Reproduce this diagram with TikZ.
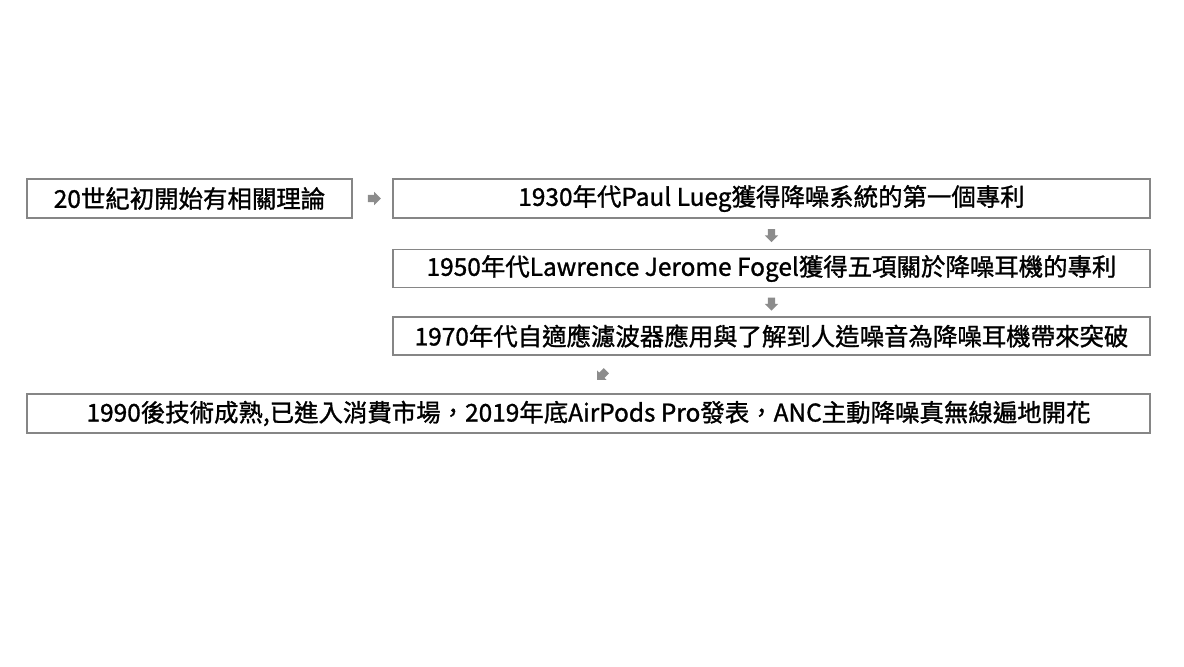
\documentclass[tikz,border=0pt]{standalone}
\usepackage{fontspec}
\setmainfont{Noto Sans CJK TC}[FakeBold=1.2]
\usetikzlibrary{shapes.arrows,calc}
\tikzset{
	box/.style={draw=gray!95,line width=0.5pt,inner sep=0pt,
		font=\fontsize{6.95}{8}\selectfont},
	blockarrow/.style={single arrow,fill=gray!90,draw=none,inner sep=0.03cm,
		minimum height=0.13cm,single arrow head extend=0.03cm}
}
\begin{document}
\begin{tikzpicture}
	% page frame
	\useasboundingbox (0,0) rectangle (11.84,-6.66);
	% the boxes
	\node[box,minimum width=3.25cm,minimum height=0.39cm] (theory) at (1.895,-1.985) {20世紀初開始有相關理論};
	\node[box,minimum width=7.57cm,minimum height=0.39cm] (lueg) at (7.715,-1.985) {1930年代Paul Lueg獲得降噪系統的第一個專利};
	\node[box,minimum width=7.57cm,minimum height=0.38cm] (fogel) at (7.715,-2.685) {1950年代Lawrence Jerome Fogel獲得五項關於降噪耳機的專利};
	\node[box,minimum width=7.57cm,minimum height=0.38cm] (filter) at (7.715,-3.36) {1970年代自適應濾波器應用與了解到人造噪音為降噪耳機帶來突破};
	\node[box,minimum width=11.23cm,minimum height=0.39cm] (anc) at (5.885,-4.135) {1990後技術成熟,已進入消費市場，2019年底AirPods Pro發表，ANC主動降噪真無線遍地開花};
	% the arrows
	\node[blockarrow] (a1) at ($(theory.east)!0.5!(lueg.west)$) {};
	\node[blockarrow,rotate=-90] (a2) at ($(lueg.south)!0.5!(fogel.north)$) {};
	\node[blockarrow,rotate=-90] (a3) at ($(fogel.south)!0.5!(filter.north)$) {};
	\node[blockarrow,rotate=-135] (a4) at (6.03,-3.74) {};
\end{tikzpicture}
\end{document}
